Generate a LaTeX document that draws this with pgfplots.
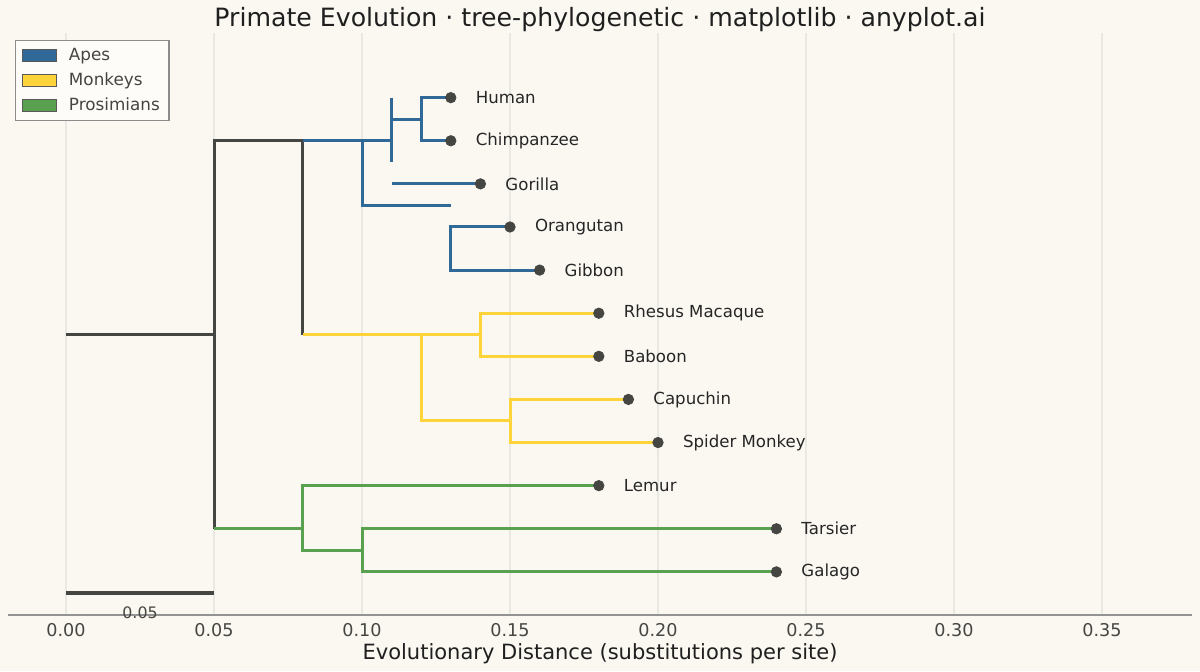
\documentclass[border=0pt]{standalone}
\usepackage{fontspec}
\setmainfont{DejaVu Sans}
\usepackage{pgfplots}
\pgfplotsset{compat=1.18}
\usepackage{pgfplotstable}
\usetikzlibrary{backgrounds,calc}

\definecolor{bg}{HTML}{FAF8F1}
\definecolor{apes}{HTML}{306998}
\definecolor{monkeys}{HTML}{FFD43B}
\definecolor{prosim}{HTML}{59A14F}
\definecolor{ink}{HTML}{454542}
\definecolor{gridc}{HTML}{EAE8E2}

% leaf tips: distance, row, name
\pgfplotstableread[col sep=comma]{
x,y,name
0.13,11,Human
0.13,10,Chimpanzee
0.14,9,Gorilla
0.15,8,Orangutan
0.16,7,Gibbon
0.18,6,Rhesus Macaque
0.18,5,Baboon
0.19,4,Capuchin
0.20,3,Spider Monkey
0.18,2,Lemur
0.24,1,Tarsier
0.24,0,Galago
}\leaves

\begin{document}
\begin{tikzpicture}
\begin{axis}[
  name=ax,
  width=592pt, height=291pt,
  scale only axis,
  xmin=-0.0196, xmax=0.3804,
  ymin=-1, ymax=12.5,
  clip=false,
  axis x line*=bottom,
  axis y line*=left,
  y axis line style={draw=none},
  x axis line style={draw=gray!85, line width=0.6pt},
  ytick=\empty,
  xtick={0,0.05,0.10,0.15,0.20,0.25,0.30,0.35},
  major tick length=0pt,
  xmajorgrids,
  major grid style={draw=gridc, line width=0.6pt},
  xticklabel style={font=\fontsize{8.8}{10}\selectfont, text=ink, anchor=base, yshift=-10.8pt},
  /pgf/number format/.cd, fixed, fixed zerofill, precision=2, assume math mode=true,
  /pgfplots/.cd,
  legend image code/.code={\draw[#1] (0pt,-3pt) rectangle (17pt,3pt);},
  legend style={at={(0,1)}, anchor=north west, xshift=3.5pt, yshift=-3.5pt,
    draw=gray!90, fill=white!55!bg, line width=0.6pt,
    font=\fontsize{8.4}{9.5}\selectfont, text=ink,
    inner xsep=3pt, inner ysep=2.1pt, row sep=1.4pt, column sep=4.6pt,
    nodes={inner sep=1.6pt}},
  legend cell align=left,
]
\addlegendimage{fill=apes, draw=black!65, line width=0.5pt}
\addlegendentry{Apes}
\addlegendimage{fill=monkeys, draw=black!65, line width=0.5pt}
\addlegendentry{Monkeys}
\addlegendimage{fill=prosim, draw=black!65, line width=0.5pt}
\addlegendentry{Prosimians}

% backbone
\addplot[forget plot, ink, line width=1.5pt] coordinates {(0,5.5) (0.05,5.5)};
\addplot[forget plot, ink, line width=1.5pt] coordinates {(0.08,5.5) (0.08,10) (0.05,10) (0.05,1)};

% apes
\addplot[forget plot, apes, line width=1.5pt] coordinates {(0.08,10) (0.11,10)};
\addplot[forget plot, apes, line width=1.5pt] coordinates {(0.10,10) (0.10,8.5) (0.13,8.5)};
\addplot[forget plot, apes, line width=1.5pt] coordinates {(0.11,11) (0.11,9.5)};
\addplot[forget plot, apes, line width=1.5pt] coordinates {(0.11,10.5) (0.12,10.5)};
\addplot[forget plot, apes, line width=1.5pt] coordinates {(0.13,11) (0.12,11) (0.12,10) (0.13,10)};
\addplot[forget plot, apes, line width=1.5pt] coordinates {(0.11,9) (0.14,9)};
\addplot[forget plot, apes, line width=1.5pt] coordinates {(0.15,8) (0.13,8) (0.13,7) (0.16,7)};

% monkeys
\addplot[forget plot, monkeys, line width=1.5pt] coordinates {(0.08,5.5) (0.14,5.5)};
\addplot[forget plot, monkeys, line width=1.5pt] coordinates {(0.18,6) (0.14,6) (0.14,5) (0.18,5)};
\addplot[forget plot, monkeys, line width=1.5pt] coordinates {(0.12,5.5) (0.12,3.5) (0.15,3.5)};
\addplot[forget plot, monkeys, line width=1.5pt] coordinates {(0.19,4) (0.15,4) (0.15,3) (0.20,3)};

% prosimians
\addplot[forget plot, prosim, line width=1.5pt] coordinates {(0.05,1) (0.08,1)};
\addplot[forget plot, prosim, line width=1.5pt] coordinates {(0.18,2) (0.08,2) (0.08,0.5) (0.10,0.5)};
\addplot[forget plot, prosim, line width=1.5pt] coordinates {(0.24,1) (0.10,1) (0.10,0) (0.24,0)};

% tips and names
\addplot[forget plot, only marks, mark=*, mark size=2.6pt, mark options={fill=ink, draw=ink},
  point meta=explicit symbolic,
  nodes near coords,
  nodes near coords style={anchor=west, xshift=9pt, font=\fontsize{8.3}{10}\selectfont, text=black!85}]
  table[x=x, y=y, meta=name] {\leaves};

% scale bar
\addplot[forget plot, ink, line width=2pt] coordinates {(0,-0.5) (0.05,-0.5)};
\node[anchor=base, font=\fontsize{7.9}{9}\selectfont, text=ink] at (axis cs:0.025,-1.09) {0.05};
\end{axis}
\node[anchor=base, font=\fontsize{12.6}{14}\selectfont, text=black!88] at ($(ax.north)+(0,3pt)$)
  {Primate Evolution · tree-phylogenetic · matplotlib · anyplot.ai};
\node[anchor=base, font=\fontsize{10.5}{12}\selectfont, text=black!88] at ($(ax.south)+(0,-22.5pt)$)
  {Evolutionary Distance (substitutions per site)};
\begin{scope}[on background layer]
\fill[bg] ($(ax.south west)+(-4pt,-28pt)$) rectangle ($(ax.north east)+(4pt,16.5pt)$);
\end{scope}
\end{tikzpicture}
\end{document}
